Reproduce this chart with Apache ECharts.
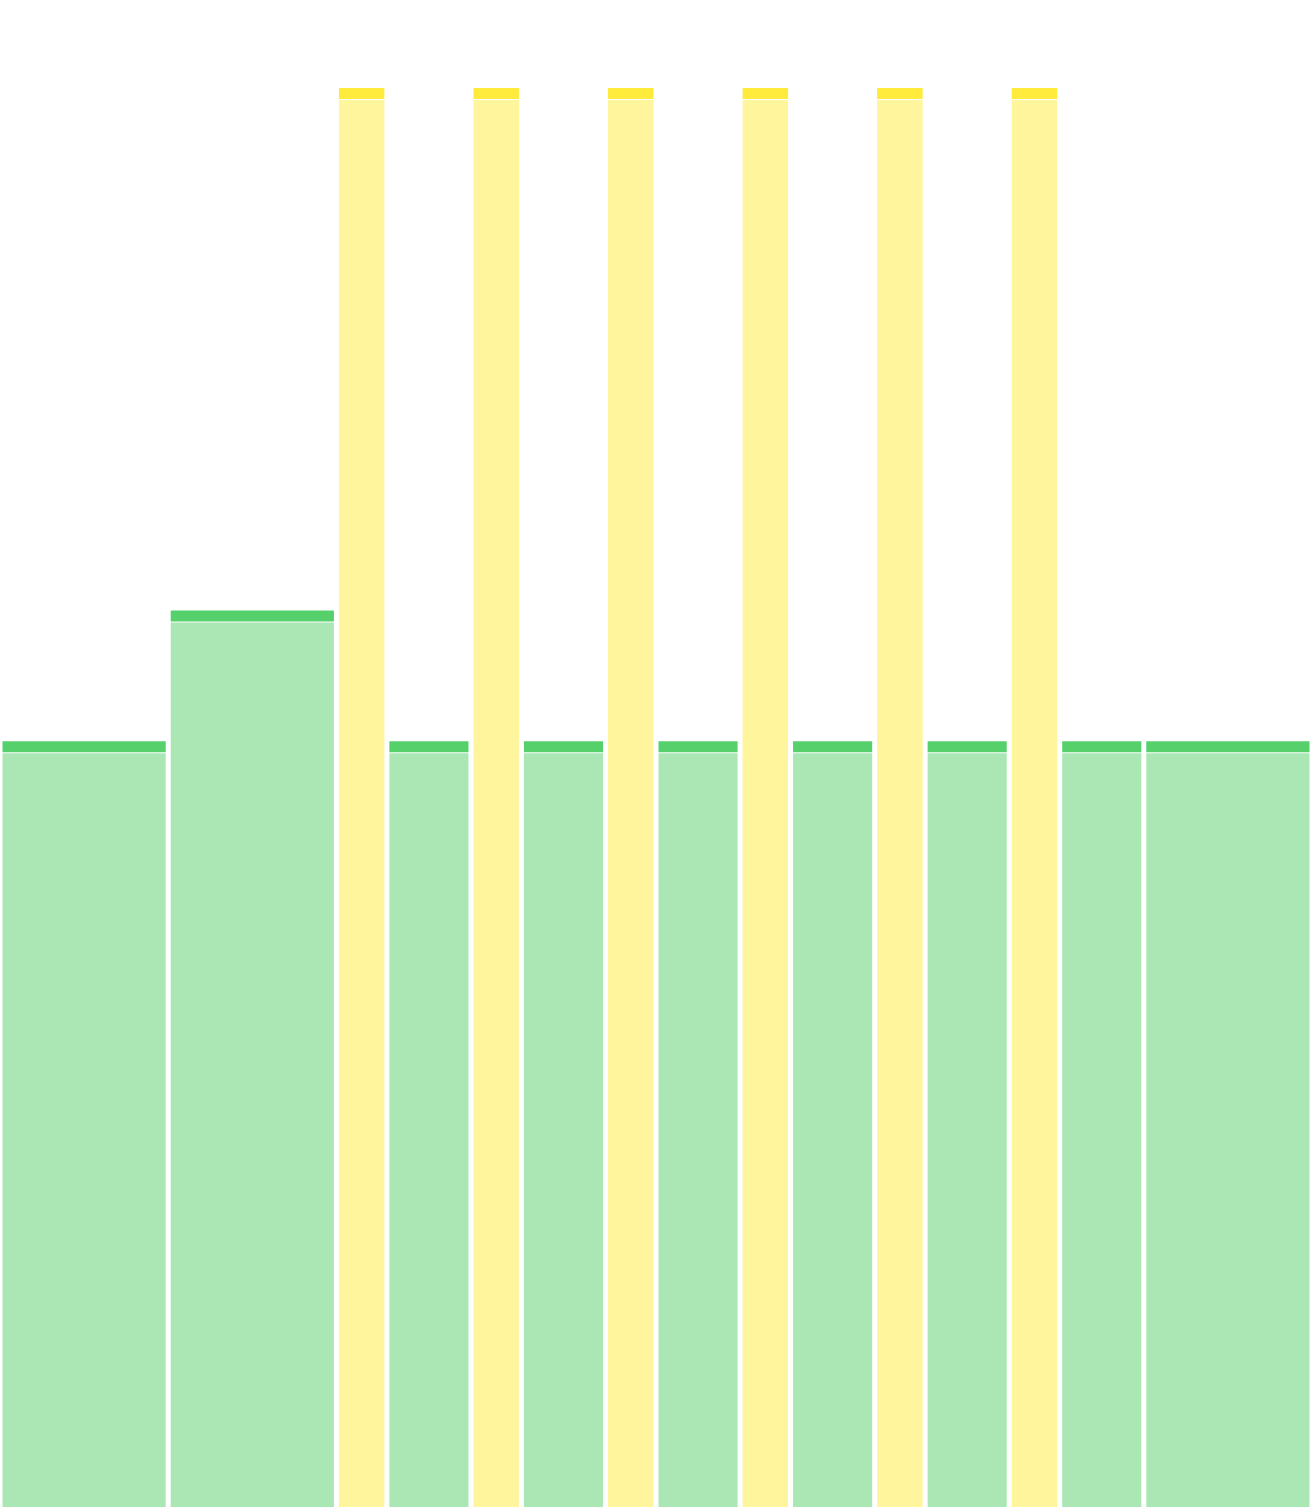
<!DOCTYPE html>
<html>
<head>
<meta charset="utf-8">
<script src="https://cdn.jsdelivr.net/npm/echarts@6/dist/echarts.min.js"></script>
<style>html,body{margin:0;padding:0;background:#fff;}#main{width:1312px;height:1508px;}</style>
</head>
<body>
<div id="main"></div>
<script>
const widths = [10, 10, 3, 5, 3, 5, 3, 5, 3, 5, 3, 5, 3, 5, 10];
const values = [54, 63.2, 100, 54, 100, 54, 100, 54, 100, 54, 100, 54, 100, 54, 54];
const groups = ['g', 'g', 'y', 'g', 'y', 'g', 'y', 'g', 'y', 'g', 'y', 'g', 'y', 'g', 'g'];
const palette = { g: '#55d06b', y: '#ffeb3b' };

let acc = 0;
const data = widths.map((w, i) => {
  const item = [acc, acc + w, values[i], groups[i]];
  acc += w;
  return item;
});
const total = acc;

const chart = echarts.init(document.getElementById('main'));
chart.setOption({
  animation: false,
  grid: { left: 0, right: 0, top: 88, bottom: 0 },
  xAxis: { type: 'value', min: 0, max: total, show: false },
  yAxis: { type: 'value', min: 0, max: 100, show: false },
  series: [{
    type: 'custom',
    data: data,
    encode: { x: [0, 1], y: 2 },
    renderItem: function (params, api) {
      const p0 = api.coord([api.value(0), 0]);
      const p1 = api.coord([api.value(1), api.value(2)]);
      const color = palette[data[params.dataIndex][3]];
      const inset = 2.5;
      const x = p0[0] + inset;
      const w = p1[0] - p0[0] - inset * 2;
      const top = p1[1];
      const bottom = p0[1] - 1;
      const strip = 11;
      return {
        type: 'group',
        children: [
          {
            type: 'rect',
            shape: { x: x, y: top + strip + 1, width: w, height: bottom - top - strip - 1 },
            style: { fill: color, opacity: 0.5 }
          },
          {
            type: 'rect',
            shape: { x: x, y: top, width: w, height: strip },
            style: { fill: color }
          }
        ]
      };
    }
  }]
});
</script>
</body>
</html>
